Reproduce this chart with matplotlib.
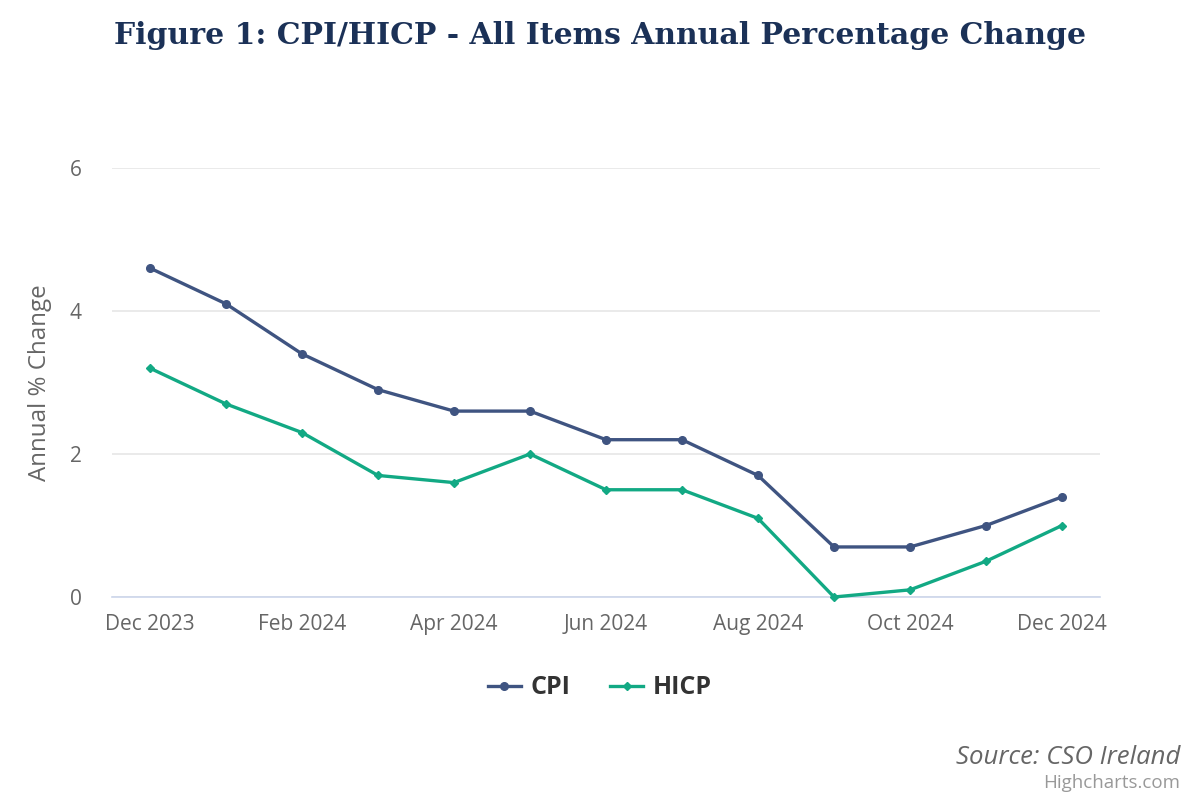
import matplotlib
matplotlib.use("Agg")
import matplotlib.pyplot as plt
from matplotlib.lines import Line2D

categories = ["Dec 2023", "Jan 2024", "Feb 2024", "Mar 2024", "Apr 2024", "May 2024",
              "Jun 2024", "Jul 2024", "Aug 2024", "Sep 2024", "Oct 2024", "Nov 2024", "Dec 2024"]
cpi = [4.6, 4.1, 3.4, 2.9, 2.6, 2.6, 2.2, 2.2, 1.7, 0.7, 0.7, 1.0, 1.4]
hicp = [3.2, 2.7, 2.3, 1.7, 1.6, 2.0, 1.5, 1.5, 1.1, 0.0, 0.1, 0.5, 1.0]
yticks = [0, 2, 4, 6]

CPI_COLOR = "#3f5481"
HICP_COLOR = "#12a984"

fig = plt.figure(figsize=(12, 8), dpi=100)
ax = fig.add_axes([112/1200, 1-597/800, (1100-112)/1200, (597-168)/800])

x = list(range(len(categories)))
ax.plot(x, cpi, color=CPI_COLOR, lw=2.4, marker="o", ms=5.5, zorder=3, clip_on=False)
ax.plot(x, hicp, color=HICP_COLOR, lw=2.4, marker="D", ms=4.2, zorder=3, clip_on=False)

ax.set_xlim(-0.5, len(categories) - 0.5)
ax.set_ylim(0, 6)
ax.set_yticks(yticks)
ax.set_yticklabels([str(v) for v in yticks], fontsize=15, color="#666666", family="Open Sans")
ax.set_xticks(x[::2])
ax.set_xticklabels(categories[::2], fontsize=15, color="#666666", family="Open Sans")
ax.tick_params(axis="both", length=0)
ax.tick_params(axis="y", pad=22)
ax.tick_params(axis="x", pad=12)
ax.grid(axis="y", color="#e6e6e6", lw=1.2)
ax.set_axisbelow(True)
for s in ["top", "right", "left"]:
    ax.spines[s].set_visible(False)
ax.spines["bottom"].set_color("#ccd6eb")
ax.spines["bottom"].set_linewidth(1.2)
ax.set_ylabel("Annual % Change", fontsize=17.4, color="#666666", family="Open Sans")
ax.yaxis.set_label_coords((52-112)/988, 0.5)

fig.text(0.5, 1-35/800, "Figure 1: CPI/HICP - All Items Annual Percentage Change",
         ha="center", va="center", fontsize=21.5, fontweight="bold", color="#1b3157",
         family="DejaVu Serif")

handles = [Line2D([0], [0], color=CPI_COLOR, lw=2.4, marker="o", ms=5.5),
           Line2D([0], [0], color=HICP_COLOR, lw=2.4, marker="D", ms=4.2)]
leg = fig.legend(handles, ["CPI", "HICP"], loc="center", bbox_to_anchor=(600/1200, 1-688/800),
                 ncol=2, frameon=False, handlelength=1.3, columnspacing=1.6, handletextpad=0.4,
                 prop={"family": "Open Sans", "weight": "bold", "size": 18})
for t in leg.get_texts():
    t.set_color("#333333")

fig.text(1180/1200, 1-757/800, "Source: CSO Ireland", ha="right", va="center",
         fontsize=18.5, style="italic", color="#666666", family="Open Sans")
fig.text(1180/1200, 1-783/800, "Highcharts.com", ha="right", va="center",
         fontsize=13.5, color="#999999", family="Open Sans")

fig.savefig("out.png", dpi=100)
